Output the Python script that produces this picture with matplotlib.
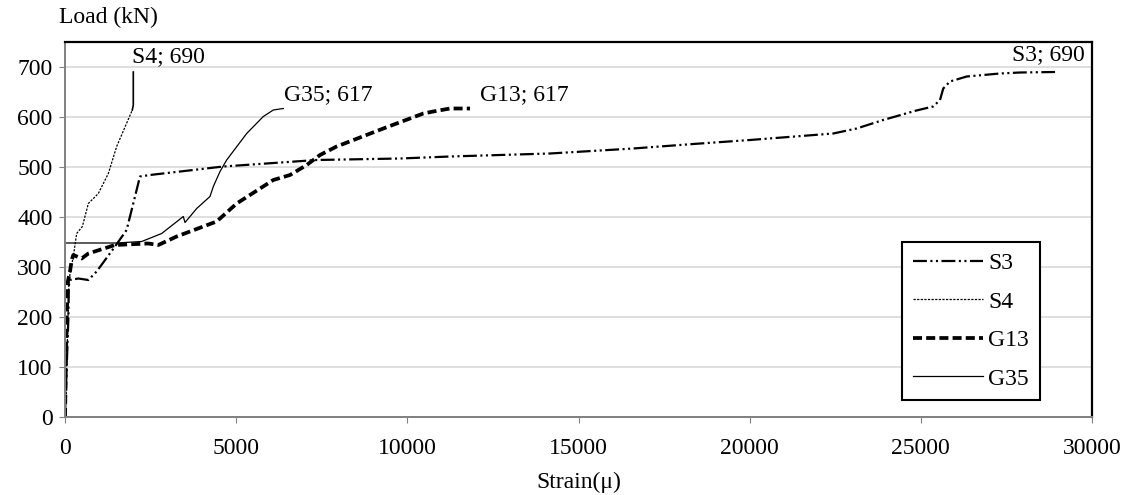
import matplotlib
matplotlib.use("Agg")
import matplotlib.pyplot as plt

plt.rcParams['font.family'] = ['Liberation Serif', 'DejaVu Serif']
plt.rcParams['lines.scale_dashes'] = False

# ---- data (strain in micro-strain, load in kN) ----
s3_strain = [0, 100, 110, 146, 390, 682, 925, 1460, 1800, 2045, 2190, 2483, 4625, 7350, 9785,
             11245, 14167, 16600, 18352, 20010, 22440, 23125, 23900, 24870, 25360, 25560,
             25655, 25850, 26340, 27310, 27900, 28920]
s3_load = [0, 200, 262, 274, 277, 274, 291, 341, 374, 441, 481, 484, 501, 514, 517,
           521, 527, 537, 546, 554, 567, 577, 594, 613, 621, 634,
           657, 671, 681, 687, 689, 690]

s4_strain = [0, 90, 110, 146, 243, 341, 507, 682, 974, 1266, 1509, 1966]
s4_load = [0, 200, 260, 287, 321, 367, 381, 427, 447, 487, 541, 614]
s4_top_strain = [1966, 1995, 1995]
s4_top_load = [614, 624, 690]

g13_strain = [0, 50, 80, 146, 196, 243, 487, 682, 1460, 2433, 2726, 3262, 4430, 5015,
              6085, 6572, 7060, 7449, 7935, 9298, 10466, 10758, 11245, 11830]
g13_load = [0, 200, 270, 291, 314, 324, 317, 327, 344, 347, 344, 361, 391, 427,
            474, 484, 504, 524, 541, 577, 607, 611, 617, 617]

g35_strain = [0, 0, 1500, 2240, 2824, 3456, 3505, 3847, 4235, 4333, 4528, 4723, 5307,
              5793, 6085, 6377]
g35_load = [0, 348, 348, 351, 367, 401, 389, 417, 441, 461, 491, 514, 567,
            601, 614, 617]

labels = ["S3", "S4", "G13", "G35"]
annotations = [("S4; 690", 1950, 721, "left"), ("G35; 617", 6400, 644, "left"),
               ("G13; 617", 12120, 644, "left"), ("S3; 690", 29780, 724, "right")]
x_ticks = [0, 5000, 10000, 15000, 20000, 25000, 30000]
y_ticks = [0, 100, 200, 300, 400, 500, 600, 700]

FS = 17

fig = plt.figure(figsize=(11.32, 4.95), dpi=100)
ax = fig.add_axes([65 / 1132, 78 / 495, 1027 / 1132, 375 / 495])

ax.plot(s3_strain, s3_load, color='black', lw=1.6,
        dashes=(10, 2.5, 1.5, 2.5, 1.5, 2.5), label=labels[0])
ax.plot(s4_strain, s4_load, color='black', lw=0.9, dashes=(1.6, 1.0), label=labels[1])
ax.plot(s4_top_strain, s4_top_load, color='black', lw=1.2)
ax.plot(g13_strain, g13_load, color='black', lw=2.7, dashes=(6.5, 3), label=labels[2])
ax.plot(g35_strain, g35_load, color='black', lw=0.9, label=labels[3])

for txt, x, y, ha in annotations:
    ax.text(x, y, txt, fontsize=FS, ha=ha, va='center')

ax.set_xlim(0, 30000)
ax.set_ylim(0, 750)
ax.set_xticks(x_ticks)
ax.set_yticks(y_ticks)
ax.tick_params(axis='both', labelsize=FS, direction='out', length=4, color='#808080')
ax.tick_params(axis='x', pad=11)
ax.tick_params(axis='y', pad=5)
ax.grid(axis='y', color='#d9d9d9', lw=1.2)
ax.set_axisbelow(True)

for side in ['top', 'right']:
    ax.spines[side].set_color('black')
    ax.spines[side].set_linewidth(1.6)
for side in ['left', 'bottom']:
    ax.spines[side].set_color('#808080')
    ax.spines[side].set_linewidth(1.4)

ax.set_xlabel("Strain(\u03bc)", fontsize=FS, labelpad=9)
fig.text(59 / 1132, 1 - 17 / 495, "Load (kN)", fontsize=FS, ha='left', va='center')

leg = ax.legend(loc='upper left', bbox_to_anchor=(0.815, 0.467), fontsize=FS,
                frameon=True, fancybox=False, edgecolor='black', framealpha=1,
                handlelength=3.0, handletextpad=0.2, labelspacing=0.72,
                borderpad=0.45, borderaxespad=0)
leg.get_frame().set_linewidth(1.5)

fig.savefig("out.png", dpi=100)
